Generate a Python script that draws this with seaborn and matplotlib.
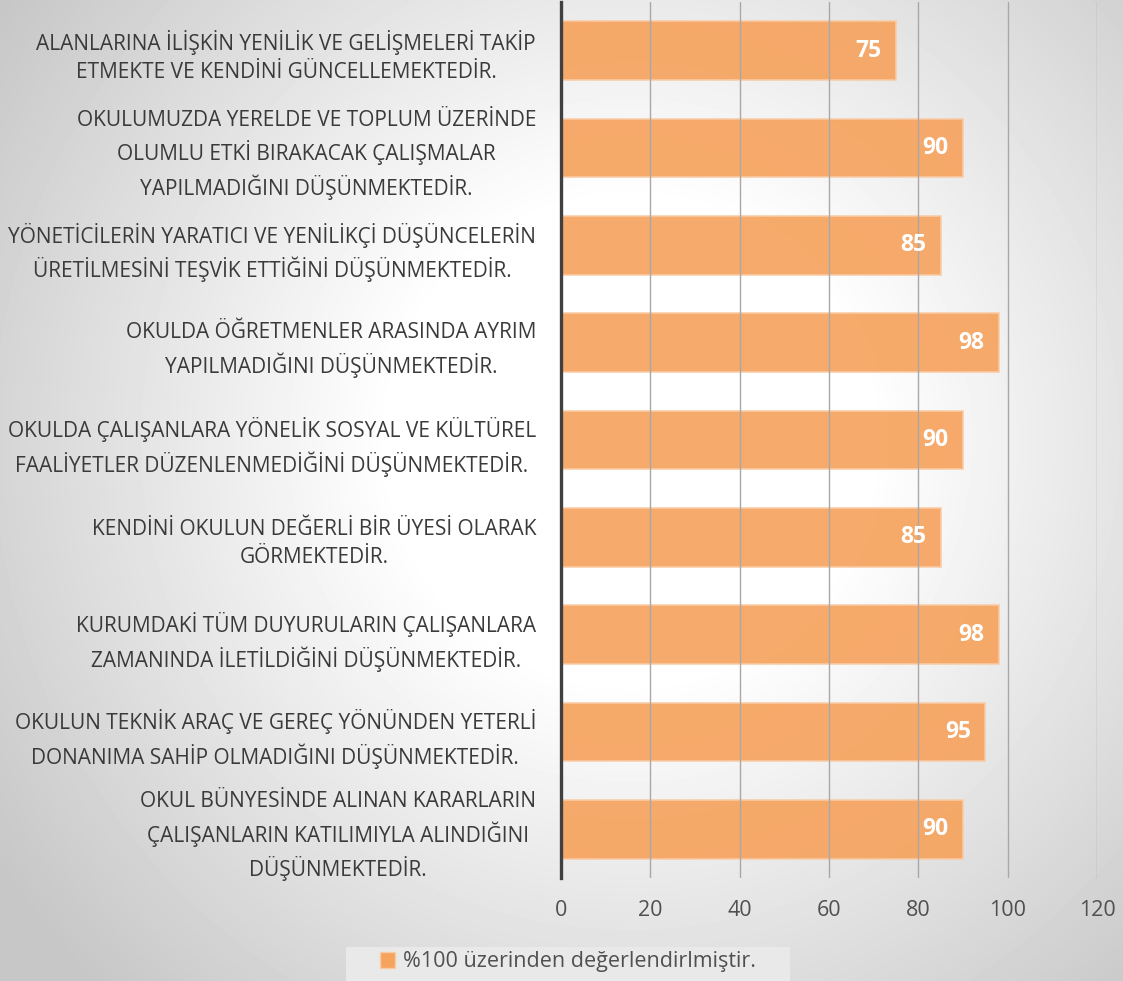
#!/usr/bin/env python3
"""Horizontal bar chart of staff survey results (scored out of 100)."""

import matplotlib.pyplot as plt
import numpy as np
import pandas as pd
import seaborn as sns
from matplotlib.patches import Patch, Rectangle

CATEGORIES = [
    "ALANLARINA İLİŞKİN YENİLİK VE GELİŞMELERİ TAKİP\nETMEKTE VE KENDİNİ GÜNCELLEMEKTEDİR.",
    "OKULUMUZDA YERELDE VE TOPLUM ÜZERİNDE\nOLUMLU ETKİ BIRAKACAK ÇALIŞMALAR\nYAPILMADIĞINI DÜŞÜNMEKTEDİR.",
    "YÖNETİCİLERİN YARATICI VE YENİLİKÇİ DÜŞÜNCELERİN\nÜRETİLMESİNİ TEŞVİK ETTİĞİNİ DÜŞÜNMEKTEDİR.",
    "OKULDA ÖĞRETMENLER ARASINDA AYRIM\nYAPILMADIĞINI DÜŞÜNMEKTEDİR.",
    "OKULDA ÇALIŞANLARA YÖNELİK SOSYAL VE KÜLTÜREL\nFAALİYETLER DÜZENLENMEDİĞİNİ DÜŞÜNMEKTEDİR.",
    "KENDİNİ OKULUN DEĞERLİ BİR ÜYESİ OLARAK\nGÖRMEKTEDİR.",
    "KURUMDAKİ TÜM DUYURULARIN ÇALIŞANLARA\nZAMANINDA İLETİLDİĞİNİ DÜŞÜNMEKTEDİR.",
    "OKULUN TEKNİK ARAÇ VE GEREÇ YÖNÜNDEN YETERLİ\nDONANIMA SAHİP OLMADIĞINI DÜŞÜNMEKTEDİR.",
    "OKUL BÜNYESİNDE ALINAN KARARLARIN\nÇALIŞANLARIN KATILIMIYLA ALINDIĞINI\nDÜŞÜNMEKTEDİR.",
]
SCORES = [75, 90, 85, 98, 90, 85, 98, 95, 90]
X_TICKS = [0, 20, 40, 60, 80, 100, 120]
SERIES_NAME = "%100 üzerinden değerlendirlmiştir."

BAR_COLOR = "#F6A35E"
TEXT_DARK = "#3a3a3a"
TEXT_MID = "#505050"

sns.set_theme(style="white")
plt.rcParams["font.family"] = ["Open Sans", "DejaVu Sans"]

df = pd.DataFrame({"label": CATEGORIES, "score": SCORES})

fig = plt.figure(figsize=(11.23, 9.81), dpi=100)

# radial grey-to-white background like the office chart style
bg = fig.add_axes([0, 0, 1, 1], zorder=-10)
yy, xx = np.mgrid[0:981, 0:1123]
r = np.hypot(xx - 630, yy - 440)
t = np.clip((r - 240) / 520, 0, 1)
shade = 1.0 - 0.22 * t
bg.imshow(shade, cmap="gray", vmin=0, vmax=1, aspect="auto",
          extent=[0, 1, 0, 1], origin="upper")
bg.axis("off")

ax = fig.add_axes([0.4996, 0.105, 0.4773, 0.893])
ax.set_facecolor("none")
sns.barplot(data=df, x="score", y="label", orient="h", color=BAR_COLOR,
            width=0.6, saturation=1, alpha=0.92, ax=ax,
            edgecolor="#F9CBA4", linewidth=1.2, zorder=2)

for i, v in enumerate(SCORES):
    ax.text(v - 3.2, i, str(v), ha="right", va="center", color="white",
            fontsize=16.5, fontweight="bold", zorder=4)

ax.set_xlim(0, 120)
ax.set_xticks(X_TICKS)
ax.set_xlabel("")
ax.set_ylabel("")
ax.grid(axis="x", color="#a8a8a8", linewidth=1.0)
ax.grid(axis="y", visible=False)
ax.set_axisbelow(False)
for g in ax.get_xgridlines():
    g.set_zorder(1.5)
for s in ["top", "right", "bottom"]:
    ax.spines[s].set_visible(False)
ax.spines["left"].set_color("#404040")
ax.spines["left"].set_linewidth(2.4)
ax.spines["left"].set_zorder(5)
ax.tick_params(axis="x", length=0, pad=16, labelsize=15.5, labelcolor=TEXT_MID)
ax.tick_params(axis="y", length=0, pad=18, labelsize=15, labelcolor=TEXT_DARK)
for lbl in ax.get_yticklabels():
    lbl.set_multialignment("center")
    lbl.set_linespacing(1.45)

# legend box at the bottom
fig.patches.append(Rectangle((346 / 1123, -0.01), 444 / 1123, 44 / 981,
                             transform=fig.transFigure, facecolor="#e9e9e9",
                             edgecolor="none", zorder=0))
handle = Patch(facecolor=BAR_COLOR, edgecolor="#F9CBA4")
fig.legend([handle], [SERIES_NAME], loc="center", bbox_to_anchor=(568 / 1123, 1 - 962 / 981),
           frameon=False, fontsize=15.5, labelcolor=TEXT_MID, handlelength=0.7,
           handleheight=0.7, handletextpad=0.4)

fig.savefig("out.png", dpi=100)
